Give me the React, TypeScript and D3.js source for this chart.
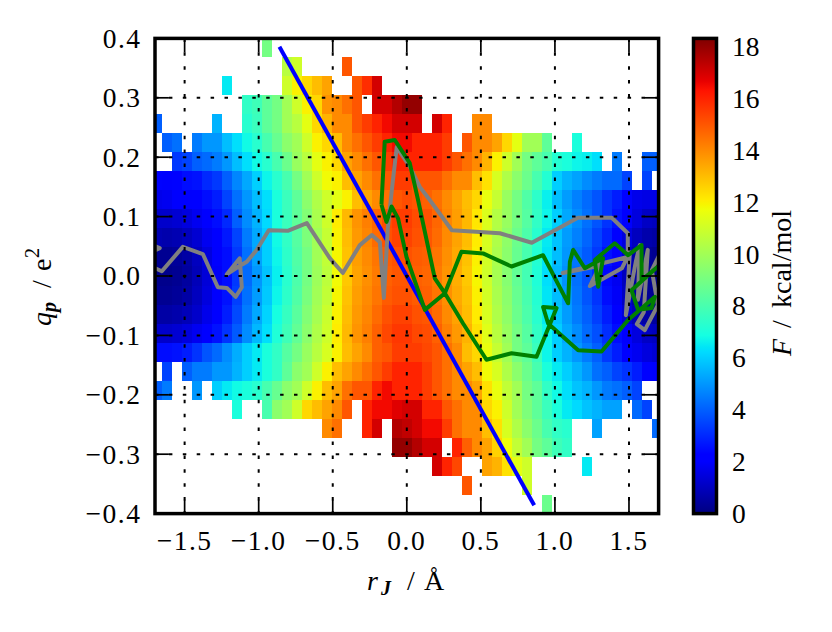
import React from "react";
import * as d3 from "d3";

const _ = null;

// axis domains
const rjAxisDomain: [number, number] = [-1.7, 1.7];
const qAxisDomain: [number, number] = [-0.4, 0.4];
// histogram bins: 51 bins in r_J, 25 bins in q_p
const rjBinLimits = [-1.72, 1.72];
const rjBinCount = 51;
const qBinLimits = [-0.4, 0.4];
const qBinCount = 25;
const fRange = [0, 18.32];

const xTickValues = [-1.5, -1.0, -0.5, 0.0, 0.5, 1.0, 1.5];
const yTickValues = [-0.4, -0.3, -0.2, -0.1, 0.0, 0.1, 0.2, 0.3, 0.4];
const cbTickValues = [0, 2, 4, 6, 8, 10, 12, 14, 16, 18];

// F in kcal/mol. Each row: [first r_J bin index, values...]; rows from q = +0.4 (top) down to q = -0.4
const freeEnergyRows: [number, (number | null)[]][] = [
  [11, [9]],
  [13, [10.5, 11, _, _, _, _, 15]],
  [7, [6.5, _, _, _, _, _, 11, 12, 12.5, 13, 13.5, _, _, 15, 15.8, 17]],
  [9, [7.5, 7.8, 8.5, 9, 10, 11, 12, 12.5, 13.8, 14, 14.5, 15, _, 17, 17, 17.5, 18, 18]],
  [0, [4, _, _, _, _, _, 5.5, _, _, 7.3, 7.7, 8.5, 9, 10, 10.5, 11.5, 12.5, 13.2, 14, 14, 15, 15.5, 16, 16.5, 17, 17, 17, _, 17, 16, _, _, 14, 14]],
  [1, [4, 4.3, _, 4.5, 5, 5, 5.7, 6.3, 6.8, 7.3, 8, 8.7, 9.5, 10, 11, 12, 12.5, 13, 14, 14.5, 15, 15.5, 16, 16.5, 16.5, 16, 16, 16, 15.5, _, 15, 14, 14, 13.5, 12.5, 11.5, 10, 10, 8.5, _, _, 7]],
  [2, [3.3, 3.5, 4, 4.2, 4.5, 5, 5.7, 6.3, 6.8, 7.3, 8, 8.8, 9.8, 10.5, 11.5, 12, 12.5, 13.5, 14, 14.5, 15, 15.5, 16, 16, 16, 16, 16, 15.5, 15, 14.5, 14, 13.2, 12, 11, 10, 9, 8.5, 8, 7.2, 7, 6.7, 6.6, 6.3, _, 4.5, _, _, 4, 4]],
  [0, [2.3, 2, 2.3, 2.5, 2.6, 3, 3.3, 4, 4.7, 5.3, 6, 6.7, 7.3, 8, 9, 10, 11, 11.8, 12, 13, 13.5, 14, 14.5, 15, 15.5, 15.5, 15, 15, 15, 14.5, 14, 14, 13, 12.3, 11.2, 10.3, 9.5, 8.8, 8, 7.2, 6, 5.5, 5.2, 4.8, 4.5, 4.2, 4.2, 3.5, _, 3.5, _]],
  [0, [1.7, 1.8, 2, 2, 2.2, 2.5, 2.8, 3.5, 4.3, 5, 5.7, 6.3, 7, 7.7, 8.5, 9.5, 10.3, 11, 11.5, 12, 13, 13.5, 14, 14.5, 15, 15.2, 15, 14.8, 14.5, 14, 13.5, 13, 12.5, 11.6, 10.8, 9.8, 9, 8.2, 7.4, 6.6, 5.7, 5.1, 4.6, 4.2, 3.8, 3.2, 2.8, 2.3, 1.7, 1.6, 1.6]],
  [0, [1.2, 1.2, 1.3, 1.5, 1.8, 2.2, 2.5, 3, 4, 4.8, 5.5, 6.2, 7, 7.7, 8.5, 9.3, 10.2, 11, 12.1, 13.1, 13.8, 14.2, 14.7, 15.2, 15.5, 15.5, 15.2, 15.1, 14.7, 14.1, 13.6, 13.1, 12.2, 11.3, 10.4, 9.8, 9, 8.3, 7.5, 6.7, 6, 5.3, 4.8, 4.3, 3.8, 3.2, 2.6, 2, 1.5, 1.1, 1.0]],
  [0, [0.8, 0.7, 0.8, 1, 1.3, 1.8, 2.2, 2.7, 3.5, 4.5, 5.3, 6, 6.8, 7.5, 8.3, 9.2, 10, 10.8, 12, 13, 13.7, 14.1, 14.6, 15.1, 15.4, 15.4, 15.1, 15, 14.6, 14, 13.5, 13, 12.1, 11.2, 10.3, 9.6, 8.8, 8.1, 7.3, 6.5, 5.8, 5.1, 4.6, 4.1, 3.5, 2.9, 2.3, 1.5, 1.0, 0.7, 0.6]],
  [0, [0.3, 0.3, 0.4, 0.6, 1, 1.5, 2, 2.5, 3.3, 4.3, 5.2, 6, 6.7, 7.4, 8.2, 9, 10, 10.7, 11.9, 12.9, 13.6, 14, 14.4, 14.9, 15.1, 15.1, 14.9, 14.8, 14.4, 13.9, 13.4, 12.9, 12, 11.1, 10.2, 9.5, 8.7, 8, 7.2, 6.4, 5.7, 5, 4.4, 3.9, 3.3, 2.6, 2, 1.2, 0.7, 0.4, 0.3]],
  [0, [0.2, 0.2, 0.3, 0.5, 0.9, 1.4, 1.9, 2.5, 3.3, 4.2, 5, 5.8, 6.6, 7.3, 8.1, 9, 9.9, 10.6, 11.8, 12.8, 13.5, 13.9, 14.3, 14.8, 15, 15, 14.8, 14.7, 14.3, 13.8, 13.3, 12.8, 11.9, 11, 10.1, 9.4, 8.6, 7.9, 7.1, 6.3, 5.6, 4.9, 4.3, 3.7, 3.1, 2.4, 1.8, 1.0, 0.5, 0.3, 0.2]],
  [0, [0.3, 0.3, 0.4, 0.6, 1, 1.5, 2, 2.6, 3.4, 4.3, 5.1, 5.9, 6.7, 7.4, 8.2, 9.1, 10, 10.7, 11.9, 12.9, 13.6, 14, 14.4, 14.9, 15.1, 15.1, 14.9, 14.8, 14.4, 13.9, 13.4, 12.9, 12, 11.1, 10.2, 9.5, 8.7, 8, 7.2, 6.4, 5.7, 5, 4.4, 3.8, 3.2, 2.5, 1.9, 1.1, 0.6, 0.35, 0.3]],
  [0, [0.6, 0.6, 0.7, 0.9, 1.2, 1.7, 2.2, 2.8, 3.6, 4.5, 5.3, 6.1, 6.9, 7.6, 8.4, 9.3, 10.1, 10.9, 12, 13, 13.7, 14.1, 14.6, 15.1, 15.4, 15.4, 15.1, 15, 14.6, 14, 13.5, 13, 12.1, 11.2, 10.3, 9.6, 8.8, 8.1, 7.3, 6.5, 5.8, 5.1, 4.5, 4, 3.4, 2.8, 2.2, 1.4, 0.9, 0.6, 0.5]],
  [0, [1.2, 1.2, 1.3, 1.5, 1.8, 2.2, 2.6, 3.2, 3.9, 4.8, 5.6, 6.3, 7.1, 7.8, 8.6, 9.5, 10.3, 11, 12.1, 13.1, 13.8, 14.2, 14.8, 15.3, 15.6, 15.6, 15.3, 15.2, 14.8, 14.2, 13.7, 13.2, 12.3, 11.4, 10.5, 9.8, 9, 8.3, 7.5, 6.7, 6, 5.3, 4.8, 4.2, 3.7, 3.1, 2.5, 2, 1.5, 1.1, 1.0]],
  [0, [2.5, 2.5, 2.6, 2.8, 3.2, 3.8, 4.2, 4.8, 5.4, 6, 6.5, 7, 7.5, 8.3, 9, 9.8, 10.5, 11.2, 12, 13, 13.5, 14, 14.8, 15, 15.5, 15.5, 15.5, 15.3, 15, 14.5, 14, 13, 12.5, 11.6, 10.8, 10, 9, 8.5, 7.7, 6.7, 6, 5.5, 5, 4.5, 4, 3.3, 2.8, 2.3, 1.8, 1.5, 1.3]],
  [0, [_, 3.5, _, 4, 4.5, 4.5, 5, 5, 5.5, 6, 6.5, 7, 7.5, 8.5, 9.5, 10, 11, 12, 13, 13.5, 14, 14.5, 15, 15.5, 16, 16, 16, 15.5, 15, 14.5, 14, 13.5, 13, 11.8, 11.2, 10.3, 9.5, 8.8, 8, 7, 6.5, 6, 5.5, 5, 4.3, 4, 3.5, 3.2, 2.8, 2.3, 2]],
  [0, [4, 4.5, _, _, 5, _, 6, 6.5, 6.8, 7, 7.3, 8, 8.7, 9.5, 10, 11, 12, 13, 13.5, 14.5, 15, 15, 16, 16.5, 16, 16, 16, 15.5, 15, 14.5, 14, 14, 13.5, 12.3, 11.6, 10.7, 10, 9, 8.5, 7.5, 6.8, 6.3, 5.8, 5.5, 5, 4.5, 4.3, 4, 3.5, _, _]],
  [8, [7, _, _, 8, 9.5, 10, 11, 12.5, 13, 13.5, 14, 15, _, 16, 16.5, 16.5, 16.8, 17, 17, 16, 16, 15, 14.5, 14, 14, 12.5, 12, 11, 10, 9.2, 8.5, 7.7, 7, 6.5, 6.2, 5.8, 5.5, 5.2, 5.2, _, 4.2, 3.5]],
  [17, [14, 14.5, _, _, 16, 17, _, 17.5, 17.3, 17, 16.5, 16.5, 15.5, 14.5, 14, 14, 13, 12.3, 11.2, 10.3, 9.5, 8.8, 8, 7.5, 7.3, _, _, 5.2, _, _, _, _, _, 4.2]],
  [24, [18, 18, 17.5, 17, 17, _, 16, 14.8, 14, 13.5, 12.6, 11.7, 10.7, 10, 9, 8.5, 7.8, 7.5]],
  [28, [17, 16, 15.3, _, _, 13.5, 13.2, 12.3, 11.5, 11, _, _, _, _, _, 6.5]],
  [31, [15, _, _, _, _, _, 11]],
  [39, [8.8]],
];

// straight dividing line (r_J, q_p)
const dividingLineR = [-0.86, 0.86];
const dividingLineQ = [0.386, -0.386];

// gray trajectory
const grayPathR = [-1.76, -1.668, -1.76, -1.76, -1.654, -1.512, -1.377, -1.276, -1.215, -1.155, -1.114, -1.128, -1.215, -1.141, -1.08, -1.013, -0.932, -0.804, -0.675, -0.52, -0.432, -0.317, -0.236, -0.182, -0.155, -0.128, -0.101, -0.068, 0.02, 0.088, 0.155, 0.304, 0.628, 0.844, 1.155, 1.384, 1.492, 1.492, 1.053, 1.303, 1.236, 1.452, 1.506, 1.479, 1.546, 1.573, 1.56, 1.627, 1.6, 1.553, 1.607, 1.695, 1.654, 1.722];
const grayPathQ = [0.056, 0.047, 0.036, 0.02, 0.008, 0.049, 0.037, -0.019, -0.02, -0.035, -0.019, 0.03, 0.003, 0.015, 0.024, 0.044, 0.077, 0.076, 0.089, 0.03, 0.005, 0.052, 0.069, 0.057, -0.037, 0.081, 0.145, 0.217, 0.184, 0.15, 0.128, 0.077, 0.072, 0.056, 0.098, 0.098, 0.072, 0.032, 0.005, 0.017, -0.017, 0.013, 0.04, -0.066, 0.024, 0.052, -0.04, 0.044, -0.061, -0.081, -0.091, -0.049, 0.01, 0.044];

// green trajectory
const greenPathR = [-0.171, -0.149, -0.081, 0.02, 0.076, 0.189, 0.257, 0.38, 0.538, 0.707, 0.876, 1.011, 0.92, 0.954, 1.157, 1.315, 1.494, 1.675, 1.652, 1.562, 1.517, 1.695, 1.585, 1.585, 1.494, 1.404, 1.269, 1.292, 1.325, 1.202, 1.123, 1.101, 1.089, 0.92, 0.707, 0.515, 0.369, 0.257, 0.122, -0.002, -0.059, -0.103, -0.137, -0.171];
const greenPathQ = [0.12, 0.226, 0.229, 0.19, 0.128, -0.004, -0.029, -0.08, -0.141, -0.13, -0.136, -0.054, -0.052, -0.08, -0.125, -0.127, -0.074, -0.035, -0.054, -0.057, -0.024, 0.016, -0.007, 0.052, 0.035, 0.055, 0.027, -0.018, 0.03, 0.013, 0.044, 0.024, -0.046, 0.035, 0.016, 0.038, 0.041, -0.029, -0.057, 0.032, 0.097, 0.117, 0.091, 0.12];

// layout
const W = 832;
const H = 632;
const plot = { left: 155, right: 658.6, top: 38.4, bottom: 513.6 };
const cbar = { left: 693.5, right: 716.5 };
const FONT = "'Liberation Serif', 'Times New Roman', serif";
const FS = 27.5;
const TICK = 13.9;
const LW = 1.7;
const TRACE_W = 4;

// matplotlib "jet"
const jetR = d3.scaleLinear().domain([0, 0.35, 0.66, 0.89, 1]).range([0, 0, 1, 1, 0.5]).clamp(true);
const jetG = d3.scaleLinear().domain([0, 0.125, 0.375, 0.64, 0.91, 1]).range([0, 0, 1, 1, 0, 0]).clamp(true);
const jetB = d3.scaleLinear().domain([0, 0.11, 0.34, 0.65, 1]).range([0.5, 1, 1, 0, 0]).clamp(true);
const jet = (t: number) => d3.rgb(jetR(t) * 255, jetG(t) * 255, jetB(t) * 255).formatHex();
const jetStops = [0, 0.11, 0.125, 0.34, 0.35, 0.375, 0.64, 0.65, 0.66, 0.89, 0.91, 1];

const fmtTick = (v: number) => (v < 0 ? "\u2212" : "") + d3.format(".1f")(Math.abs(v));

export default function App() {
  const x = d3.scaleLinear().domain(rjAxisDomain).range([plot.left, plot.right]);
  const y = d3.scaleLinear().domain(qAxisDomain).range([plot.bottom, plot.top]);
  const color = d3.scaleLinear().domain(fRange).range([0, 1]);
  const cbY = d3.scaleLinear().domain(fRange).range([plot.bottom, plot.top]);

  const rEdges = d3.range(rjBinCount + 1).map((i) => rjBinLimits[0] + (i * (rjBinLimits[1] - rjBinLimits[0])) / rjBinCount);
  const qEdges = d3.range(qBinCount + 1).map((i) => qBinLimits[1] - (i * (qBinLimits[1] - qBinLimits[0])) / qBinCount);

  const cells: { x0: number; x1: number; y0: number; y1: number; v: number; key: string }[] = [];
  freeEnergyRows.forEach(([start, vals], row) => {
    vals.forEach((v, j) => {
      if (v == null) return;
      const c = start + j;
      cells.push({
        x0: Math.round(x(rEdges[c])),
        x1: Math.round(x(rEdges[c + 1])),
        y0: Math.round(y(qEdges[row])),
        y1: Math.round(y(qEdges[row + 1])),
        v,
        key: `${row}-${c}`,
      });
    });
  });

  const line = d3
    .line<[number, number]>()
    .x((d) => x(d[0]))
    .y((d) => y(d[1]));
  const zip = (a: number[], b: number[]) => a.map((v, i) => [v, b[i]] as [number, number]);

  const pw = plot.right - plot.left;
  const ph = plot.bottom - plot.top;

  return (
    <svg
      width={W}
      height={H}
      style={{ position: "absolute", left: 0, top: 0, background: "#fff" }}
      fontFamily={FONT}
    >
      <defs>
        <clipPath id="plotClip">
          <rect x={plot.left} y={plot.top} width={pw} height={ph} />
        </clipPath>
        <linearGradient id="jetGrad" x1="0" y1="1" x2="0" y2="0">
          {jetStops.map((t) => (
            <stop key={t} offset={t} stopColor={jet(t)} />
          ))}
        </linearGradient>
      </defs>

      <g clipPath="url(#plotClip)">
        <g shapeRendering="crispEdges">
          {cells.map((c) => (
            <rect key={c.key} x={c.x0} y={c.y0} width={c.x1 - c.x0} height={c.y1 - c.y0} fill={jet(color(c.v))} />
          ))}
        </g>
        <path d={line(zip(dividingLineR, dividingLineQ)) || ""} fill="none" stroke="#0000ff" strokeWidth={TRACE_W} />
        <path d={line(zip(grayPathR, grayPathQ)) || ""} fill="none" stroke="#808080" strokeWidth={TRACE_W} strokeLinejoin="round" />
        <path d={line(zip(greenPathR, greenPathQ)) || ""} fill="none" stroke="#008000" strokeWidth={TRACE_W} strokeLinejoin="round" />
        {/* grid */}
        {xTickValues.map((t) => (
          <line key={"gx" + t} x1={x(t)} x2={x(t)} y1={plot.top} y2={plot.bottom} stroke="#000" strokeWidth={LW + 0.3} strokeDasharray="3.5 10.4" />
        ))}
        {yTickValues.map((t) => (
          <line key={"gy" + t} x1={plot.left} x2={plot.right} y1={y(t)} y2={y(t)} stroke="#000" strokeWidth={LW + 0.3} strokeDasharray="3.5 10.4" />
        ))}
      </g>

      {/* ticks (inside, all four sides) */}
      {xTickValues.map((t) => (
        <g key={"tx" + t}>
          <line x1={x(t)} x2={x(t)} y1={plot.bottom} y2={plot.bottom - TICK} stroke="#000" strokeWidth={LW} />
          <line x1={x(t)} x2={x(t)} y1={plot.top} y2={plot.top + TICK} stroke="#000" strokeWidth={LW} />
          <text x={x(t)} y={550} textAnchor="middle" fontSize={FS} letterSpacing={1.5}>
            {fmtTick(t)}
          </text>
        </g>
      ))}
      {yTickValues.map((t) => (
        <g key={"ty" + t}>
          <line x1={plot.left} x2={plot.left + TICK} y1={y(t)} y2={y(t)} stroke="#000" strokeWidth={LW} />
          <line x1={plot.right} x2={plot.right - TICK} y1={y(t)} y2={y(t)} stroke="#000" strokeWidth={LW} />
          <text x={141.5} y={y(t) + 9.3} textAnchor="end" fontSize={FS} letterSpacing={1.5}>
            {fmtTick(t)}
          </text>
        </g>
      ))}

      <rect x={plot.left} y={plot.top} width={pw} height={ph} fill="none" stroke="#000" strokeWidth={3.5} />

      {/* axis labels */}
      <text y={590} fontSize={28}>
        <tspan x={367} fontStyle="italic">r</tspan>
        <tspan x={381} dy={5} fontSize={20} fontStyle="italic" fontWeight="bold">J</tspan>
        <tspan x={407} dy={-5}>/</tspan>
        <tspan x={424}>Å</tspan>
      </text>
      <text transform="translate(51,276) rotate(-90)" fontSize={28}>
        <tspan x={-50} fontStyle="italic">q</tspan>
        <tspan x={-36} dy={5} fontSize={20} fontStyle="italic" fontWeight="bold">p</tspan>
        <tspan x={-12} dy={-5}>/</tspan>
        <tspan x={5}>e</tspan>
        <tspan x={18} dy={-12} fontSize={20}>2</tspan>
      </text>

      {/* colorbar */}
      <rect x={cbar.left} y={plot.top} width={cbar.right - cbar.left} height={ph} fill="url(#jetGrad)" stroke="#000" strokeWidth={3.5} />
      {cbTickValues.map((t) => (
        <text key={"cb" + t} x={732} y={cbY(t) + 9.3} fontSize={FS}>
          {t}
        </text>
      ))}
      <text transform="translate(791,276) rotate(-90)" fontSize={28}>
        <tspan x={-80} fontStyle="italic">F</tspan>
        <tspan x={-52}>/</tspan>
        <tspan x={-32}>kcal/mol</tspan>
      </text>
    </svg>
  );
}
